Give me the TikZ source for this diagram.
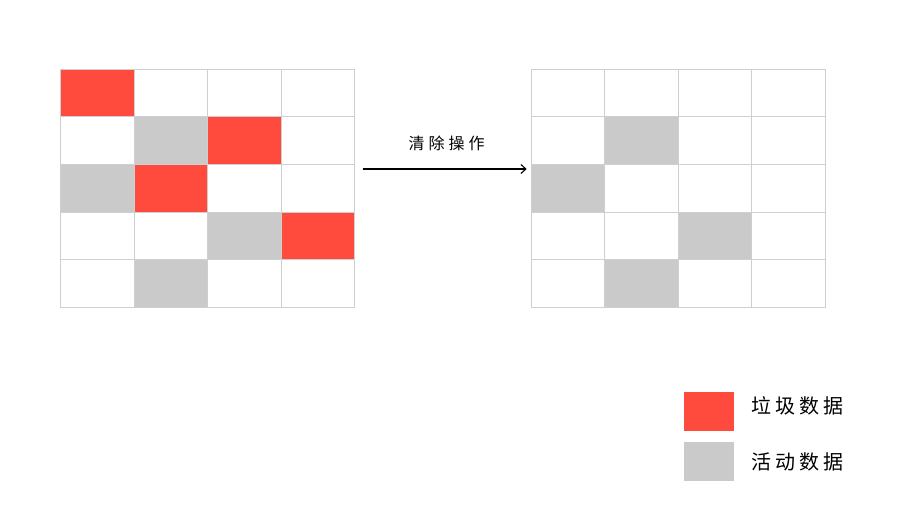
\documentclass[tikz,border=0pt]{standalone}
\usepackage{fontspec}
\usetikzlibrary{arrows.meta}
\newfontfamily\cjk{Noto Sans CJK SC}
\definecolor{garb}{HTML}{FF4B3E}
\definecolor{live}{HTML}{CACACA}
\definecolor{gridline}{HTML}{CFCFCF}
\newcommand{\cgap}{\hspace{4pt}}
\begin{document}
\begin{tikzpicture}[x=1pt,y=-1pt,
  cell/.style={draw=gridline,line width=0.9pt,minimum width=73.6pt,minimum height=47.6pt,inner sep=0pt,outer sep=0pt,anchor=north west},
  gcell/.style={cell,fill=garb},
  lcell/.style={cell,fill=live},
  key/.style={minimum width=50pt,minimum height=39pt,inner sep=0pt,anchor=north west},
  lbl/.style={font=\cjk\fontsize{20}{24}\selectfont,inner sep=0pt,anchor=west}]
\useasboundingbox (0,0) rectangle (918,518);
% left grid
\foreach \r in {0,...,4}{\foreach \c in {0,...,3}{
  \node[cell] (L\r\c) at ({60.5+73.6*\c},{69.3+47.6*\r}) {};}}
\foreach \r/\c in {0/0,1/2,2/1,3/3}{
  \node[gcell] (LG\r\c) at ({60.5+73.6*\c},{69.3+47.6*\r}) {};}
\foreach \r/\c in {1/1,2/0,3/2,4/1}{
  \node[lcell] (LL\r\c) at ({60.5+73.6*\c},{69.3+47.6*\r}) {};}
% right grid
\foreach \r in {0,...,4}{\foreach \c in {0,...,3}{
  \node[cell] (R\r\c) at ({531+73.6*\c},{69.3+47.6*\r}) {};}}
\foreach \r/\c in {1/1,2/0,3/2,4/1}{
  \node[lcell] (RL\r\c) at ({531+73.6*\c},{69.3+47.6*\r}) {};}
% arrow
\coordinate (a1) at (362.7,169);
\coordinate (a2) at (526.7,169);
\draw[line width=1.1pt,-{Straight Barb[length=5pt,width=9pt]}] (a1) -- (a2);
\node[font=\cjk\fontsize{16}{20}\selectfont,inner sep=0pt] (op) at (446.5,143) {清\cgap 除\cgap 操\cgap 作};
% legend
\node[key,fill=garb] (k1) at (683.5,391.7) {};
\node[key,fill=live] (k2) at (683.5,441.3) {};
\node[lbl] (t1) at (751,406) {垃\cgap 圾\cgap 数\cgap 据};
\node[lbl] (t2) at (751,462) {活\cgap 动\cgap 数\cgap 据};
\end{tikzpicture}
\end{document}
